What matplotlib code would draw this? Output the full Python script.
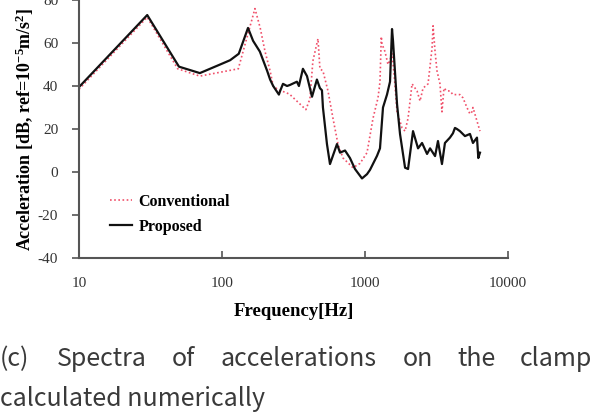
import numpy as np
import matplotlib
matplotlib.use("Agg")
import matplotlib.pyplot as plt

plt.rcParams['axes.unicode_minus'] = False
plt.rcParams['mathtext.fontset'] = 'custom'
plt.rcParams['mathtext.rm'] = 'Liberation Serif:bold'
plt.rcParams['mathtext.it'] = 'Liberation Serif:bold'
plt.rcParams['mathtext.bf'] = 'Liberation Serif:bold'

# conventional clamp (dotted red)
conv_f = [10, 30, 49, 70, 130, 170, 185, 200, 217, 228, 250, 280, 299, 351, 386, 412,
          432, 469, 484, 508, 551, 597, 647, 702, 824, 923, 1033, 1138, 1233, 1273,
          1300, 1315, 1380, 1448, 1496, 1545, 1600, 1675, 1816, 1906, 2000, 2133, 2312,
          2426, 2546, 2760, 2944, 2992, 3090, 3188, 3344, 3453, 3566, 3741, 3927, 4121,
          4395, 4613, 4841, 5163, 5420, 5598, 5689, 6068, 6370]
conv_db = [38.5, 72, 48, 44.6, 48, 76, 67, 56, 47, 40, 38, 37, 36, 31.6, 29, 34,
           51.6, 62, 48, 47, 37.7, 25, 13, 6.5, 2, 4, 9, 25, 34.5, 42,
           63, 59.5, 56, 50, 52, 55, 45, 28, 20.5, 19, 25, 41, 37.7,
           33, 39, 41, 57.7, 68, 56, 47, 41, 28, 39, 37.7, 37.7, 36,
           36, 36, 34.5, 30, 27, 28, 30, 23.7, 19]

# proposed clamp (solid black)
prop_f = [10, 30, 50, 70, 97, 114, 131, 152, 165, 184, 207, 217, 228, 250, 255, 267,
          285, 299, 334, 345, 368, 393, 426, 461, 484, 500, 508, 542, 569, 637, 669,
          725, 785, 851, 953, 1033, 1084, 1213, 1273, 1336, 1425, 1496, 1545, 1570,
          1675, 1758, 1906, 2000, 2167, 2349, 2506, 2716, 2851, 3090, 3238, 3453,
          3623, 3927, 4121, 4256, 4395, 4613, 5000, 5420, 5689, 6068, 6200, 6370]
prop_db = [39.5, 73, 49, 46, 50, 52, 55, 67, 61, 56, 47, 43, 40, 36, 37.7, 41,
           40, 40.5, 42, 40, 48, 44.6, 35, 43, 39, 38, 30, 13, 3.7, 13, 9,
           10, 6.5, 1.4, -3, -1, 1, 7.5, 11, 30, 36, 42, 66.5, 61,
           31.6, 17.6, 2, 1.4, 19, 11, 13.5, 8.4, 11, 7.4, 14.4, 3.7,
           13.5, 16, 18, 20.5, 20, 19, 16.7, 17.7, 13.5, 16, 6.5, 9]

caption1 = ["(c)", "Spectra", "of", "accelerations", "on", "the", "clamp"]
caption1_x = [0, 57, 172, 221, 403, 457, 520]
caption2 = "calculated numerically"

W, H = 591, 418
fig = plt.figure(figsize=(W / 100, H / 100), dpi=100)
ax = fig.add_axes([79 / W, (H - 258) / H, (508 - 79) / W, 258 / H])

ax.plot(conv_f, conv_db, color='#f0506a', lw=1.2, ls=(0, (1, 1.5)), label='Conventional')
ax.plot(prop_f, prop_db, color='#111111', lw=1.6, label='Proposed')

ax.set_xscale('log')
ax.set_xlim(10, 10000)
ax.set_ylim(-40, 80)
ax.set_yticks(np.arange(-40, 81, 20))
ax.set_xticks([10, 100, 1000, 10000])
ax.set_xticklabels(['10', '100', '1000', '10000'])
ax.minorticks_off()

for s in ['top', 'right']:
    ax.spines[s].set_visible(False)
for s in ['left', 'bottom']:
    ax.spines[s].set_color('#555555')
    ax.spines[s].set_linewidth(1.5)

ax.tick_params(axis='x', direction='in', length=5, width=1.2, color='#555555', pad=14)
ax.tick_params(axis='y', direction='out', length=5, width=1.2, color='#555555', pad=10)
for lab in ax.get_xticklabels() + ax.get_yticklabels():
    lab.set_fontfamily('Liberation Serif')
    lab.set_fontsize(11)
    lab.set_color('#333333')

ax.set_xlabel('Frequency[Hz]', fontfamily='Liberation Serif', fontweight='bold',
              fontsize=13.5, labelpad=9)
ax.set_ylabel(r'Acceleration [dB, ref=10$^{-5}$m/s$^{2}$]', fontfamily='Liberation Serif',
              fontweight='bold', fontsize=13, labelpad=1)

leg = ax.legend(loc='upper left', bbox_to_anchor=(0.072, 0.25), frameon=False,
                borderpad=0, borderaxespad=0, handlelength=1.4, handletextpad=0.4,
                labelspacing=0.6, prop={'family': 'Liberation Serif', 'weight': 'bold', 'size': 11.5})

for word, x in zip(caption1, caption1_x):
    fig.text(x / W, 1 - 366 / H, word, fontfamily='Noto Sans CJK KR', fontsize=18,
             color='#3a3a3a', ha='left', va='baseline')
fig.text(0, 1 - 406 / H, caption2, fontfamily='Noto Sans CJK KR', fontsize=18,
         color='#3a3a3a', ha='left', va='baseline')

fig.savefig('out.png', dpi=100)
